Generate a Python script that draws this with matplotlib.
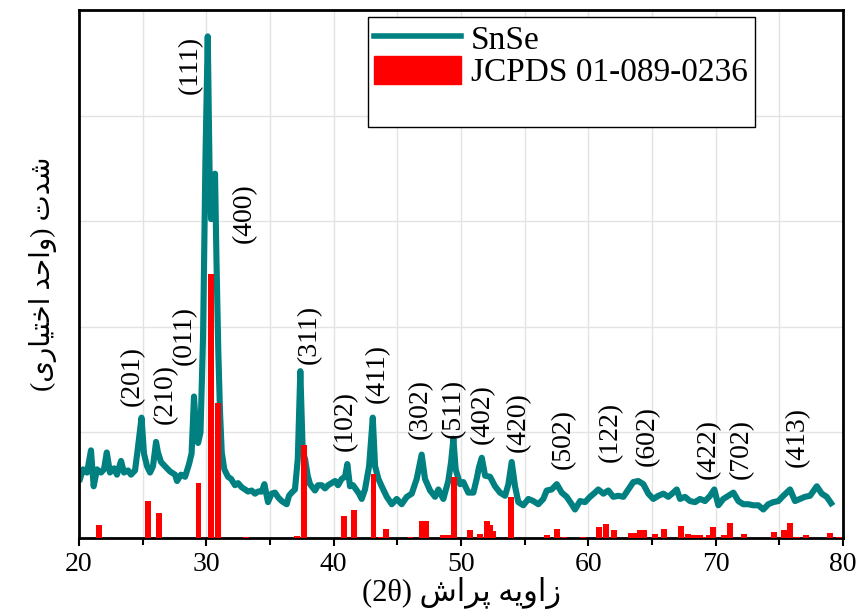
import matplotlib
matplotlib.use("Agg")
import matplotlib.pyplot as plt
from matplotlib.lines import Line2D
from matplotlib.patches import Patch

# SnSe XRD pattern (2theta in degrees, intensity in a.u.)
two_theta = [20.08, 20.31, 20.63, 20.94, 21.15, 21.41, 21.73, 21.96, 22.18, 22.43,
             22.75, 22.98, 23.30, 23.53, 23.85, 24.08, 24.40, 24.61, 24.91, 25.10,
             25.34, 25.58, 25.81, 26.05, 26.20, 26.44, 26.75, 27.15, 27.54, 27.70,
             28.01, 28.33, 28.64, 28.84, 29.03, 29.23, 29.35, 29.54, 29.74, 29.93,
             30.11, 30.25, 30.37, 30.52, 30.68, 30.80, 30.94, 31.07, 31.21, 31.41,
             31.70, 31.94, 32.25, 32.49, 32.78, 33.04, 33.27, 33.55, 33.82, 34.06,
             34.35, 34.56, 34.84, 35.12, 35.39, 35.67, 35.92, 36.31, 36.49, 36.70,
             36.96, 37.18, 37.38, 37.57, 37.75, 37.96, 38.14, 38.53, 38.77, 39.06,
             39.32, 39.56, 39.83, 40.11, 40.34, 40.63, 40.89, 41.07, 41.28, 41.52,
             41.81, 41.99, 42.20, 42.46, 42.78, 43.07, 43.25, 43.51, 43.77, 44.17,
             44.56, 44.95, 45.34, 45.74, 46.13, 46.52, 46.91, 47.17, 47.57, 47.96,
             48.22, 48.61, 49.00, 49.22, 49.40, 49.58, 49.92, 50.18, 50.57, 50.97,
             51.23, 51.41, 51.63, 51.89, 52.28, 52.67, 53.06, 53.46, 53.72, 53.98,
             54.24, 54.50, 54.89, 55.29, 55.68, 56.07, 56.46, 56.73, 57.12, 57.52,
             57.91, 58.30, 58.69, 58.95, 59.35, 59.74, 60.13, 60.52, 60.78, 61.18,
             61.57, 61.96, 62.35, 62.75, 63.14, 63.53, 63.92, 64.32, 64.71, 65.10,
             65.50, 65.89, 66.28, 66.67, 66.94, 67.20, 67.59, 67.98, 68.38, 68.77,
             69.16, 69.56, 69.89, 70.21, 70.60, 70.99, 71.39, 71.78, 72.17, 72.56,
             72.96, 73.35, 73.74, 74.13, 74.53, 74.92, 75.31, 75.84, 76.23, 76.62,
             77.01, 77.41, 77.94, 78.33, 78.72, 79.06]
intensity = [0.56, 0.65, 0.62, 0.83, 0.49, 0.65, 0.62, 0.65, 0.81, 0.62,
             0.66, 0.60, 0.73, 0.62, 0.64, 0.60, 0.64, 0.84, 1.14, 0.80,
             0.68, 0.62, 0.68, 0.91, 0.81, 0.72, 0.68, 0.63, 0.60, 0.54,
             0.60, 0.58, 0.70, 0.80, 1.34, 0.95, 0.90, 1.00, 1.90, 3.60,
             4.75, 3.50, 3.02, 3.05, 3.45, 2.60, 1.76, 1.20, 0.81, 0.65,
             0.58, 0.56, 0.50, 0.52, 0.48, 0.46, 0.44, 0.45, 0.42, 0.44,
             0.44, 0.51, 0.34, 0.42, 0.43, 0.38, 0.35, 0.32, 0.40, 0.43,
             0.46, 0.75, 1.58, 0.81, 0.75, 0.59, 0.51, 0.45, 0.50, 0.50,
             0.47, 0.50, 0.52, 0.54, 0.50, 0.56, 0.58, 0.70, 0.49, 0.50,
             0.45, 0.42, 0.37, 0.46, 0.68, 1.14, 0.68, 0.56, 0.49, 0.39,
             0.32, 0.37, 0.32, 0.39, 0.42, 0.56, 0.79, 0.56, 0.45, 0.39,
             0.46, 0.37, 0.54, 0.72, 0.94, 0.65, 0.51, 0.53, 0.43, 0.43,
             0.56, 0.67, 0.76, 0.59, 0.58, 0.49, 0.43, 0.40, 0.51, 0.72,
             0.49, 0.34, 0.31, 0.37, 0.35, 0.32, 0.37, 0.45, 0.46, 0.51,
             0.43, 0.39, 0.32, 0.27, 0.35, 0.34, 0.39, 0.43, 0.46, 0.42,
             0.45, 0.39, 0.40, 0.39, 0.46, 0.53, 0.54, 0.51, 0.42, 0.37,
             0.40, 0.42, 0.39, 0.43, 0.46, 0.37, 0.39, 0.35, 0.34, 0.37,
             0.35, 0.40, 0.46, 0.31, 0.37, 0.40, 0.43, 0.35, 0.32, 0.32,
             0.31, 0.31, 0.27, 0.32, 0.34, 0.35, 0.40, 0.46, 0.35, 0.37,
             0.39, 0.40, 0.49, 0.42, 0.39, 0.33]

# JCPDS 01-089-0236 reference sticks
ref_pos = [21.55, 25.40, 26.26, 29.39, 30.37, 30.90, 33.10, 37.10, 37.65, 40.80,
           41.59, 43.12, 43.70, 44.12, 46.04, 46.95, 47.25, 48.60, 48.95, 49.43,
           50.68, 51.50, 52.03, 52.25, 52.50, 53.94, 56.76, 57.55, 58.10, 59.60,
           60.85, 61.38, 62.03, 63.30, 63.60, 64.05, 64.40, 65.25, 65.94, 67.25,
           67.85, 68.30, 68.75, 69.05, 69.45, 69.76, 70.63, 71.14, 72.20, 74.58,
           75.36, 75.83, 76.40, 77.10, 79.00, 79.70]
ref_int = [0.12, 0.35, 0.24, 0.52, 2.50, 1.28, 0.01, 0.02, 0.88, 0.21,
           0.265, 0.61, 0.01, 0.09, 0.01, 0.16, 0.16, 0.03, 0.03, 0.58,
           0.075, 0.04, 0.165, 0.12, 0.07, 0.39, 0.03, 0.085, 0.01, 0.01,
           0.10, 0.13, 0.08, 0.045, 0.045, 0.08, 0.08, 0.04, 0.09, 0.115,
           0.04, 0.03, 0.03, 0.01, 0.03, 0.105, 0.03, 0.14, 0.04, 0.06,
           0.075, 0.14, 0.01, 0.03, 0.045, 0.01]

# Miller indices: label, 2theta, bottom of text
hkl = ["(201)", "(210)", "(011)", "(111)", "(400)", "(311)", "(102)", "(411)",
       "(302)", "(511)", "(402)", "(420)", "(502)", "(122)", "(602)", "(422)",
       "(702)", "(413)"]
hkl_x = [24.2, 26.8, 28.3, 28.72, 32.96, 38.1, 40.9, 43.4, 46.8, 49.4,
         51.7, 54.5, 58.0, 61.7, 64.6, 69.4, 72.0, 76.4]
hkl_y = [1.25, 1.08, 1.64, 4.20, 2.79, 1.65, 0.82, 1.28, 0.94, 0.95,
         0.89, 0.81, 0.65, 0.72, 0.68, 0.56, 0.56, 0.67]

# Persian labels, shaped with presentation forms in visual order
xlabel = "(2\u03b8) " + "\ufeb5\ufe8d\ufeae\ufb58" + " " + "\ufeea\ufef3\ufeed\ufe8d\ufeaf"   # زاویه پراش (2θ)
ylabel = ("(" + "\ufeef\ufead\ufe8e\ufef4\ufe98\ufea7\ufe8d" + " "
          + "\ufeaa\ufea3\ufe8d\ufeed" + ") " + "\ufe95\ufeaa\ufeb7")              # شدت (واحد اختیاری)

teal = "#008080"
serif = ["Liberation Serif", "DejaVu Sans"]
plt.rcParams["font.family"] = serif

fig = plt.figure(figsize=(8.57, 6.10), dpi=100)
ax = fig.add_axes([0.0922, 0.118, 0.8915, 0.8656])

ax.grid(True, color="#e3e3e3", lw=1.0, zorder=0)
ax.plot(two_theta, intensity, color=teal, lw=4.4, zorder=2, solid_joinstyle="round")
ax.bar(ref_pos, ref_int, width=0.45, color="red", zorder=3)

for lab, xx, yy in zip(hkl, hkl_x, hkl_y):
    ax.text(xx, yy, lab, rotation=90, ha="center", va="bottom", fontsize=20, zorder=4)

ax.set_xlim(20, 80)
ax.set_ylim(0, 5)
ax.set_xticks(range(20, 81, 10))
ax.set_xticks(range(25, 80, 10), minor=True)
ax.set_yticks(range(0, 6))
ax.set_yticklabels([])
ax.tick_params(axis="y", length=0)
ax.tick_params(axis="x", which="major", direction="out", length=6, width=1.5, labelsize=20, pad=4)
ax.tick_params(axis="x", which="minor", direction="out", length=5, width=1.5)
ax.xaxis.grid(True, which="minor", color="#e3e3e3", lw=1.0)
for s in ax.spines.values():
    s.set_linewidth(2)

ax.set_xlabel(xlabel, fontsize=22, labelpad=0)
ax.set_ylabel(ylabel, fontsize=20, labelpad=12)

handles = [Line2D([], [], color=teal, lw=4),
           Patch(facecolor="red", edgecolor="red"),
           Line2D([], [], color="none")]
leg = ax.legend(handles, ["SnSe", "JCPDS 01-089-0236", " "], loc="upper left",
                bbox_to_anchor=(0.378, 0.987), borderaxespad=0, fontsize=24,
                frameon=True, fancybox=False, framealpha=1, edgecolor="black",
                handlelength=2.6, handleheight=0.9, handletextpad=0.3,
                labelspacing=0.0, borderpad=0.2)
leg.get_frame().set_linewidth(1.0)

fig.savefig("out.png", dpi=100)
